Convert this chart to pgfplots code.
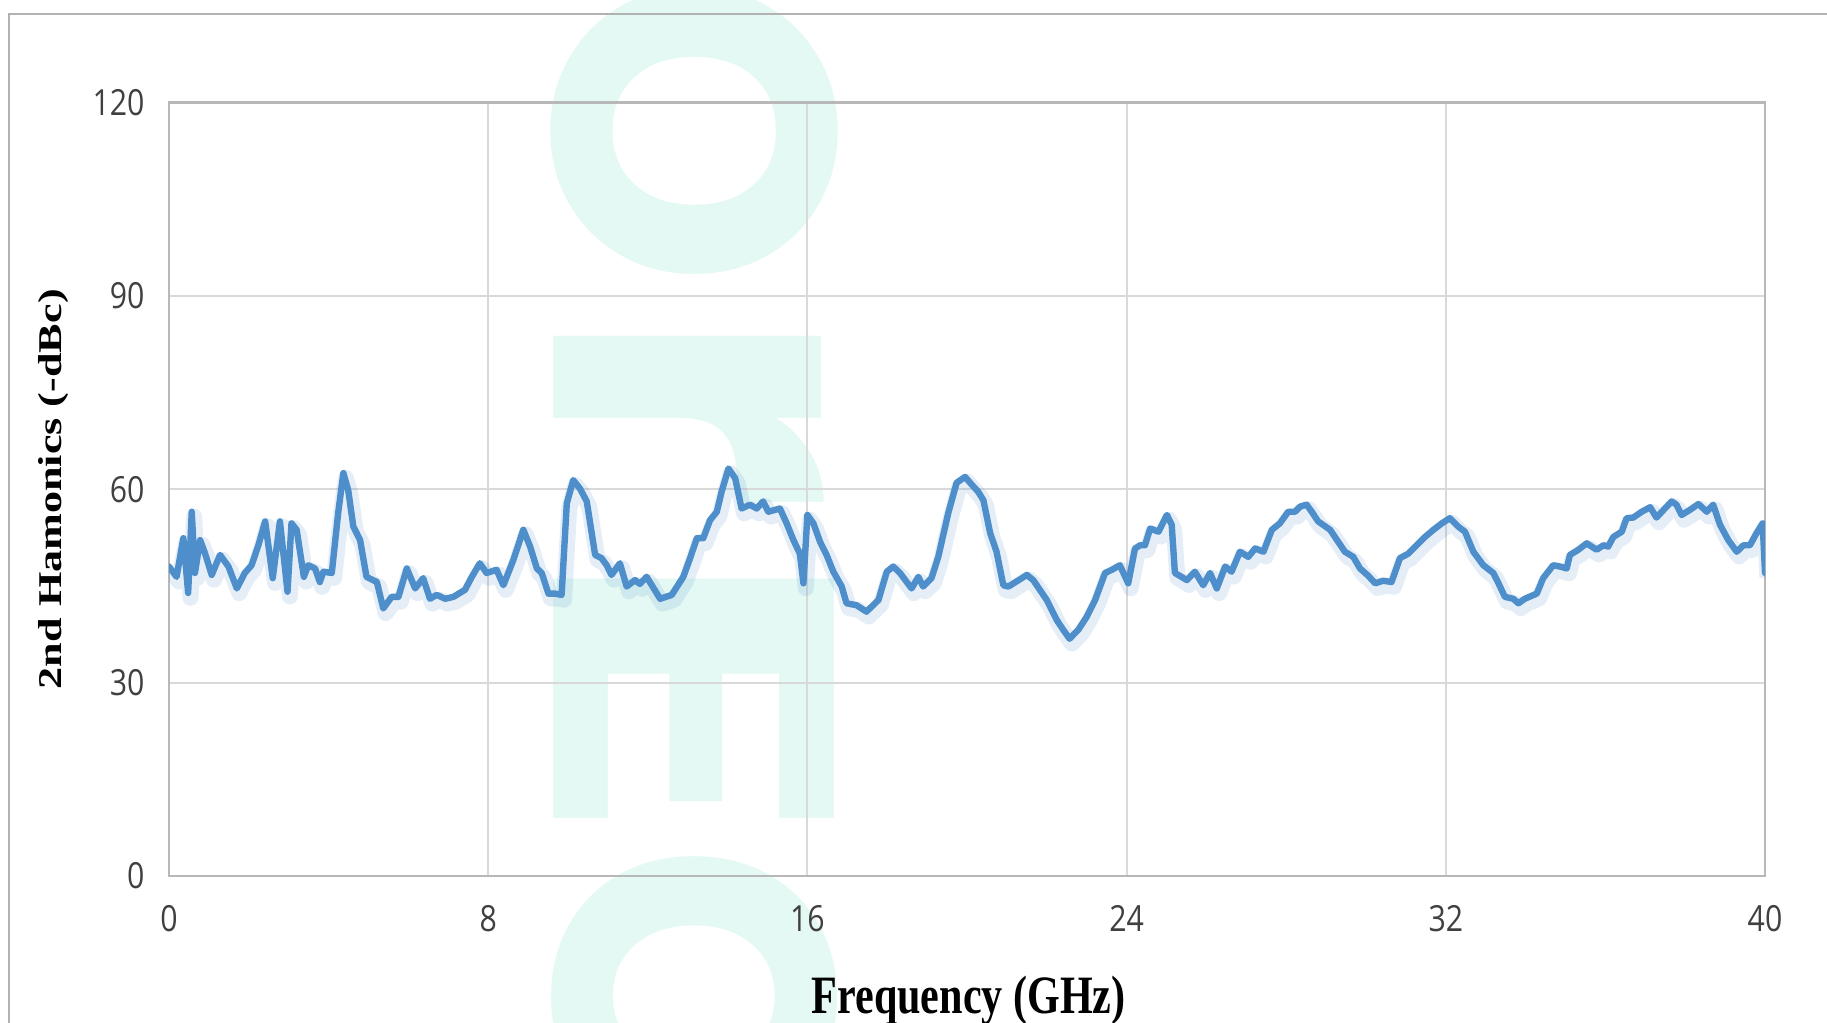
\documentclass[border=0pt]{standalone}
\usepackage{fontspec}
\usepackage{pgfplots}
\usepackage{pgfplotstable}
\pgfplotsset{compat=1.18}
\setmainfont{Liberation Serif}
% the reference looks squeezed sideways, hence the stretched fonts
\newfontfamily\tickfont[FakeStretch=0.84]{Open Sans}
\newfontfamily\xlabfont[FakeStretch=0.78]{Liberation Serif}
\newfontfamily\ylabfont[FakeStretch=1.33]{Liberation Serif}
\newfontfamily\wmfont[FakeStretch=1.2]{Poppins}

\definecolor{lineblue}{RGB}{78,142,203}
\definecolor{gridgray}{RGB}{217,217,217}
\definecolor{ticktext}{RGB}{64,64,64}
\definecolor{wmmint}{RGB}{228,249,243}

\pgfplotstableread{
x y
0.00 48.0
0.19 46.4
0.36 52.4
0.48 43.9
0.57 56.5
0.65 47.0
0.78 52.1
0.90 50.1
1.07 46.7
1.28 49.8
1.49 48.0
1.70 44.6
1.90 47.0
2.07 48.2
2.24 51.3
2.41 55.0
2.60 46.2
2.78 55.0
2.97 44.1
3.07 54.7
3.20 53.7
3.38 46.4
3.49 48.2
3.66 47.7
3.78 45.6
3.87 47.2
4.08 47.0
4.24 56.3
4.37 62.5
4.49 59.9
4.62 54.2
4.79 52.1
4.95 46.4
5.21 45.6
5.37 41.5
5.58 43.3
5.75 43.3
5.96 47.7
6.17 44.6
6.37 46.2
6.54 43.0
6.71 43.6
6.92 43.0
7.13 43.3
7.42 44.4
7.59 46.4
7.79 48.5
7.96 47.0
8.21 47.5
8.38 45.1
8.63 49.0
8.88 53.7
9.05 51.1
9.22 47.7
9.34 47.0
9.51 43.8
9.67 43.8
9.84 43.6
9.97 57.8
10.13 61.4
10.30 60.1
10.47 58.1
10.68 49.8
10.84 49.3
10.97 48.2
11.09 46.7
11.30 48.5
11.47 44.9
11.68 45.9
11.80 45.3
11.97 46.4
12.31 43.0
12.60 43.6
12.89 46.4
13.06 49.3
13.23 52.4
13.39 52.4
13.56 55.2
13.73 56.5
13.85 59.6
14.02 63.2
14.19 61.7
14.35 57.0
14.56 57.6
14.73 57.0
14.89 58.1
15.02 56.5
15.31 57.0
15.48 54.7
15.65 52.1
15.81 50.0
15.90 45.4
16.00 56.0
16.15 54.7
16.32 51.8
16.48 49.8
16.65 47.2
16.86 44.9
16.98 42.3
17.23 42.0
17.48 41.0
17.78 42.8
17.99 47.2
18.15 48.0
18.32 47.0
18.61 44.6
18.78 46.4
18.90 44.9
19.11 46.2
19.28 49.5
19.53 56.3
19.74 61.0
19.95 61.9
20.12 60.7
20.28 59.6
20.41 58.3
20.58 53.2
20.74 50.3
20.91 45.1
21.04 44.9
21.50 46.7
21.66 45.9
22.00 42.8
22.25 39.7
22.41 38.2
22.57 36.8
22.79 38.2
23.00 40.2
23.21 42.8
23.46 47.0
23.63 47.5
23.83 48.2
24.04 45.4
24.21 50.8
24.34 51.3
24.46 51.3
24.59 53.9
24.80 53.4
25.01 56.0
25.13 54.5
25.21 47.0
25.51 45.9
25.71 47.2
25.92 45.1
26.09 47.0
26.26 44.6
26.47 48.0
26.63 47.2
26.84 50.3
27.05 49.5
27.22 50.8
27.43 50.3
27.64 53.7
27.84 54.7
28.05 56.5
28.22 56.5
28.35 57.3
28.51 57.6
28.64 56.5
28.80 55.0
29.10 53.7
29.47 50.3
29.68 49.5
29.85 47.7
30.05 46.6
30.23 45.4
30.43 45.8
30.64 45.6
30.85 49.3
31.06 50.0
31.27 51.3
31.48 52.6
31.69 53.7
31.90 54.7
32.10 55.5
32.31 54.2
32.48 53.4
32.69 50.3
32.94 48.2
33.19 47.0
33.32 45.4
33.48 43.3
33.69 43.0
33.82 42.3
33.98 43.0
34.28 43.8
34.44 46.2
34.69 48.2
34.86 48.0
35.03 47.7
35.11 49.8
35.32 50.6
35.53 51.6
35.78 50.6
35.95 51.3
36.07 51.1
36.20 52.6
36.41 53.4
36.53 55.5
36.70 55.6
36.91 56.5
37.12 57.2
37.28 55.6
37.49 57.0
37.66 58.1
37.78 57.6
37.91 56.0
38.12 56.8
38.33 57.7
38.54 56.5
38.70 57.6
38.87 54.5
39.08 52.1
39.29 50.3
39.46 51.3
39.62 51.3
39.79 53.2
39.94 54.7
40.00 47.0
}\harm

\begin{document}
\begin{tikzpicture}
\useasboundingbox (0,0) rectangle (456.75pt,255.75pt);

% watermark letters, behind everything
\tikzset{wm/.style={rotate=-90, anchor=base, inner sep=0, text=wmmint,
        font=\wmfont\bfseries\fontsize{100}{100}\selectfont}}
\begin{scope}[shift={(138.25pt,223pt)}]
  \node[wm, xscale=0.83] at (0,0) {O};
\end{scope}
\begin{scope}[shift={(138.25pt,153.5pt)}]
  \node[wm, yscale=1.2] at (0,0) {r};
\end{scope}
\begin{scope}[shift={(138.25pt,82pt)}]
  \node[wm, xscale=1.16] at (0,0) {E};
\end{scope}
\begin{scope}[shift={(138.25pt,7pt)}]
  \node[wm, xscale=0.83] at (0,0) {C};
\end{scope}

% outer frame of the screenshot
\draw[gray!60, line width=0.6pt] (2.25pt,0) -- (2.25pt,252.25pt) -- (456.75pt,252.25pt);

\begin{axis}[
  at={(42.25pt,36.75pt)}, anchor=south west,
  scale only axis, width=399pt, height=193.4pt,
  xmin=0, xmax=40, ymin=0, ymax=120,
  xtick={0,8,...,40}, ytick={0,30,...,120},
  grid=major,
  major grid style={color=gridgray, line width=0.5pt},
  axis line style={color=gridgray!85!black, line width=0.6pt},
  major tick length=0pt,
  /pgf/number format/assume math mode=true,
  tick label style={font=\tickfont\fontsize{9}{10}\selectfont, text=ticktext},
  xticklabel style={yshift=-3.8pt},
  yticklabel style={xshift=-2.6pt},
  xlabel={Frequency (GHz)},
  ylabel={2nd Hamonics (-dBc)},
  xlabel style={at={(axis description cs:0.501,-0.178)}, anchor=base,
                font=\xlabfont\bfseries\fontsize{13.5}{15}\selectfont},
  ylabel style={at={(axis description cs:-0.0673,0.5)}, anchor=base,
                font=\ylabfont\bfseries\fontsize{8.3}{10}\selectfont},
]
  % soft shadow under the line
  \addplot[line width=4pt, color=lineblue, opacity=0.15, line join=round,
           yshift=-1.2pt, xshift=0.6pt, forget plot] table {\harm};
  \addplot[line width=1.6pt, color=lineblue, line join=round, line cap=round] table {\harm};
\end{axis}
\end{tikzpicture}
\end{document}
